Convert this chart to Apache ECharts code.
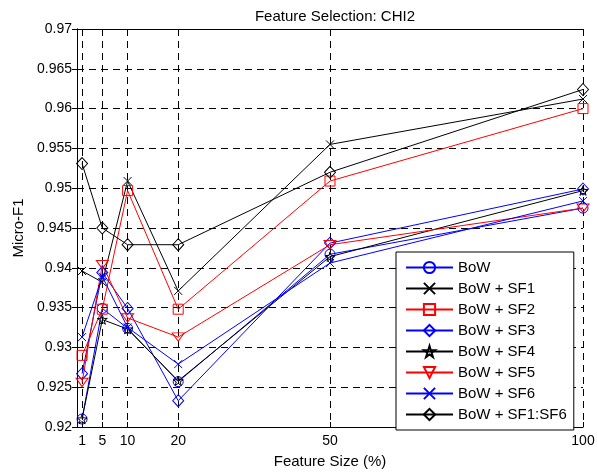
<!DOCTYPE html>
<html>
<head>
<meta charset="utf-8">
<script src="https://cdn.jsdelivr.net/npm/echarts@6/dist/echarts.min.js"></script>
<style>
  html, body { margin: 0; padding: 0; background: #fff; }
  #chart { width: 598px; height: 474px; }
</style>
</head>
<body>
<div id="chart"></div>
<script>
const featureSizes = [1, 5, 10, 20, 50, 100]
const yTicks = [0.92, 0.925, 0.93, 0.935, 0.94, 0.945, 0.95, 0.955, 0.96, 0.965, 0.97]

const bow = [0.9210, 0.9349, 0.9324, 0.9257, 0.9417, 0.9475]
const bowSf1 = [0.9396, 0.9382, 0.9509, 0.9371, 0.9555, 0.9612]
const bowSf2 = [0.9290, 0.9348, 0.9497, 0.9348, 0.9509, 0.9600]
const bowSf3 = [0.9267, 0.9394, 0.9349, 0.9233, 0.9431, 0.9499]
const bowSf4 = [0.9210, 0.9335, 0.9323, 0.9258, 0.9414, 0.9497]
const bowSf5 = [0.9256, 0.9404, 0.9337, 0.9313, 0.9429, 0.9475]
const bowSf6 = [0.9313, 0.9389, 0.9325, 0.9279, 0.9406, 0.9484]
const bowSfAll = [0.9531, 0.9450, 0.9429, 0.9429, 0.9520, 0.9624]

const FONT = '"Liberation Sans", Arial, sans-serif'
const starPath = 'path://M10,0L12.25,6.91L19.51,6.91L13.63,11.18L15.88,18.09L10,13.82L4.12,18.09L6.37,11.18L0.49,6.91L7.75,6.91Z'
const crossPath = 'path://M0,0L10,10M0,10L10,0'
const triDownPath = 'path://M0,0L12,0L6,10Z'

// name, values, colour, marker, marker size
const lines = [
  ['BoW', bow, '#0000ff', 'circle', 10],
  ['BoW + SF1', bowSf1, '#000000', crossPath, 8],
  ['BoW + SF2', bowSf2, '#ff0000', 'rect', 10],
  ['BoW + SF3', bowSf3, '#0000ff', 'diamond', [11, 12]],
  ['BoW + SF4', bowSf4, '#000000', starPath, 10],
  ['BoW + SF5', bowSf5, '#ff0000', triDownPath, [12, 10]],
  ['BoW + SF6', bowSf6, '#0000ff', crossPath, 8],
  ['BoW + SF1:SF6', bowSfAll, '#000000', 'diamond', [11, 12]]
]

const chart = echarts.init(document.getElementById('chart'))

const series = lines.map(([name, vals, color, symbol, size]) => ({
  name: name,
  type: 'line',
  data: featureSizes.map((x, i) => [x, vals[i]]),
  symbol: symbol,
  symbolSize: size,
  symbolKeepAspect: true,
  showAllSymbol: true,
  lineStyle: { color: color, width: 1 },
  itemStyle: { color: 'transparent', borderColor: color, borderWidth: 1 },
  emphasis: { disabled: true }
}))

const gridDash = { show: true, lineStyle: { color: '#000', type: [7, 5], width: 1 } }

const option = {
  animation: false,
  backgroundColor: '#fff',
  title: {
    text: 'Feature Selection: CHI2',
    left: 330,
    top: 4,
    textAlign: 'center',
    textStyle: { fontFamily: FONT, fontSize: 15, fontWeight: 'normal', color: '#000' }
  },
  legend: {
    orient: 'vertical',
    left: 396,
    top: 252,
    padding: [8, 7, 8, 9],
    itemWidth: 47,
    itemHeight: 14,
    itemGap: 6,
    backgroundColor: '#fff',
    borderColor: '#000',
    borderWidth: 1,
    data: lines.map(l => l[0]),
    textStyle: { fontFamily: FONT, fontSize: 15, color: '#000' }
  },
  grid: { left: 77, right: 15, top: 29, bottom: 47 },
  xAxis: [
    {
      type: 'value',
      min: 0,
      max: 100,
      name: 'Feature Size (%)',
      nameLocation: 'middle',
      nameGap: 27,
      nameTextStyle: { fontFamily: FONT, fontSize: 15, color: '#000' },
      axisLine: { show: true, lineStyle: { color: '#000', width: 1 } },
      axisTick: { show: true, inside: true, length: 5, customValues: featureSizes, lineStyle: { color: '#000' } },
      axisLabel: { customValues: featureSizes, margin: 7, fontFamily: FONT, fontSize: 14, color: '#000' },
      splitLine: gridDash
    },
    {
      type: 'value',
      position: 'top',
      min: 0,
      max: 100,
      axisLine: { show: true, lineStyle: { color: '#000', width: 1 } },
      axisTick: { show: true, inside: true, length: 5, customValues: featureSizes, lineStyle: { color: '#000' } },
      axisLabel: { show: false },
      splitLine: { show: false }
    }
  ],
  yAxis: [
    {
      type: 'value',
      min: 0.92,
      max: 0.97,
      interval: 0.005,
      name: 'Micro-F1',
      nameLocation: 'middle',
      nameGap: 51,
      nameTextStyle: { fontFamily: FONT, fontSize: 15, color: '#000' },
      axisLine: { show: true, lineStyle: { color: '#000', width: 1 } },
      axisTick: { show: true, inside: true, length: 5, customValues: yTicks, lineStyle: { color: '#000' } },
      axisLabel: {
        customValues: yTicks,
        margin: 5,
        fontFamily: FONT,
        fontSize: 14,
        color: '#000',
        formatter: v => String(+v.toFixed(3))
      },
      splitLine: gridDash
    },
    {
      type: 'value',
      position: 'right',
      min: 0.92,
      max: 0.97,
      interval: 0.005,
      axisLine: { show: true, lineStyle: { color: '#000', width: 1 } },
      axisTick: { show: true, inside: true, length: 5, lineStyle: { color: '#000' } },
      axisLabel: { show: false },
      splitLine: { show: false }
    }
  ],
  series: series
}

chart.setOption(option)
</script>
</body>
</html>
